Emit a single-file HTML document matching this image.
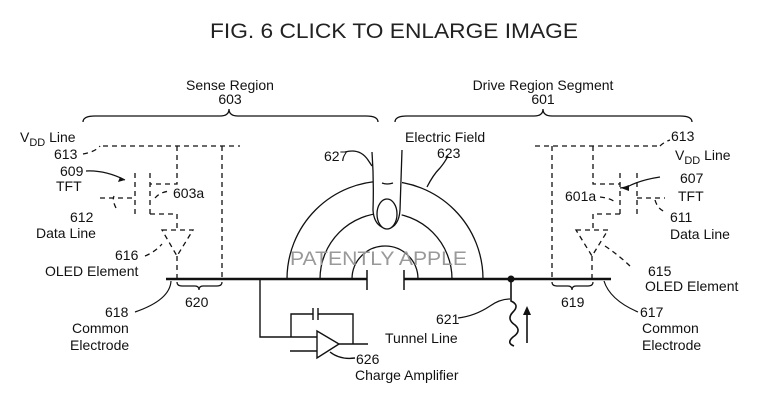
<!DOCTYPE html>
<html><head><meta charset="utf-8"><style>
html,body{margin:0;padding:0;background:#fff;}
svg{display:block;}
text{font-family:"Liberation Sans",Arial,sans-serif;fill:#111;}
</style></head><body>
<svg width="764" height="400" viewBox="0 0 764 400" xmlns="http://www.w3.org/2000/svg">
<text x="210" y="38" font-size="21" textLength="368" lengthAdjust="spacingAndGlyphs" style="fill:#222">FIG. 6 CLICK TO ENLARGE IMAGE</text>

<g font-size="14">
<text x="230" y="90" text-anchor="middle">Sense Region</text>
<text x="230" y="104" text-anchor="middle">603</text>
<text x="543" y="90" text-anchor="middle">Drive Region Segment</text>
<text x="543" y="104" text-anchor="middle">601</text>
</g>
<g fill="none" stroke="#111" stroke-width="1.3">
<path d="M83,122 Q83,116 95,116 L220,116 Q229,116 229,109 Q229,116 238,116 L366,116 Q378,116 378,122"/>
<path d="M395,122 Q395,116 407,116 L534,116 Q543,116 543,109 Q543,116 552,116 L680,116 Q692,116 692,122"/>
</g>

<!-- left pixel -->
<g fill="none" stroke="#111" stroke-width="1.3" stroke-dasharray="5,4">
<path d="M103,146 L240,146"/>
<path d="M177,146 L177,184 L150,184"/>
<path d="M222,146 L222,280"/>
<path d="M135,173 L135,218"/>
<path d="M150,173 L150,218"/>
<path d="M100,198 L135,198"/>
<path d="M150,214 L177,214 L177,230"/>
<path d="M162,230 L193,230 L177,256 Z"/>
<path d="M177,256 L177,280"/>
<path d="M83,154 Q95,152 100,146"/>
<path d="M116,208 Q112,200 114,196"/>
<path d="M145,256 Q155,252 162,244"/>
<path d="M155,198 Q160,192 170,191"/>
</g>
<!-- right pixel -->
<g fill="none" stroke="#111" stroke-width="1.3" stroke-dasharray="5,4">
<path d="M535,146 L660,146"/>
<path d="M552,146 L552,280"/>
<path d="M593,146 L593,184 L620,184"/>
<path d="M620,173 L620,218"/>
<path d="M637,173 L637,218"/>
<path d="M637,198 L665,198"/>
<path d="M620,214 L593,214 L593,230"/>
<path d="M576,230 L608,230 L592,256 Z"/>
<path d="M592,256 L592,280"/>
<path d="M660,146 Q664,142 670,140"/>
<path d="M655,200 Q658,210 666,212"/>
<path d="M605,246 Q620,256 632,268"/>
<path d="M600,197 Q610,198 615,202"/>
</g>
<g font-size="14">
<text x="20" y="142">V<tspan font-size="11" dy="4">DD</tspan><tspan dy="-4"> Line</tspan></text>
<text x="54" y="159">613</text>
<text x="60" y="176">609</text>
<text x="56" y="191">TFT</text>
<text x="70" y="222">612</text>
<text x="36" y="238">Data Line</text>
<text x="115" y="260">616</text>
<text x="45" y="276">OLED Element</text>
<text x="173" y="198">603a</text>
<text x="671" y="141">613</text>
<text x="675" y="160">V<tspan font-size="11" dy="4">DD</tspan><tspan dy="-4"> Line</tspan></text>
<text x="680" y="183">607</text>
<text x="678" y="201">TFT</text>
<text x="670" y="222">611</text>
<text x="670" y="239">Data Line</text>
<text x="648" y="276">615</text>
<text x="645" y="291">OLED Element</text>
<text x="565" y="201">601a</text>
</g>
<g fill="none" stroke="#111" stroke-width="1.2">
<path d="M86,171 Q105,170 125,180"/>
<path d="M620,188 L627,187 Q640,180 660,177"/>
</g>
<path d="M125,180 L118,182 L120,177 Z" fill="#111"/>
<path d="M621,188 L629,185 L629,191 Z" fill="#111"/>

<!-- electrodes -->
<g stroke="#111" fill="none">
<path d="M166,279 L367,279" stroke-width="2.5"/>
<path d="M367,270 L367,290" stroke-width="1.5"/>
<path d="M404,279 L611,279" stroke-width="2.5"/>
<path d="M404,270 L404,290" stroke-width="1.5"/>
</g>
<circle cx="511" cy="279" r="3.5" fill="#111"/>

<!-- arcs -->
<g fill="none" stroke="#111" stroke-width="1.3">
<path d="M287,279 A98,98 0 0 1 483,279"/>
<path d="M320,279 A66,66 0 0 1 452,279"/>
<path d="M352,279 A33,33 0 0 1 418,279"/>
</g>
<!-- finger -->
<path d="M372,140 Q374,180 373,210 Q373,228 388,229 Q402,228 402,210 L402,140 Z" fill="#fff" stroke="none"/>
<g fill="none" stroke="#111" stroke-width="1.3">
<path d="M372,152 Q374,180 373,210 Q374,227 388,229"/>
<path d="M402,150 Q401,180 400,210 Q399,226 388,229"/>
<ellipse cx="387" cy="214" rx="10" ry="15" fill="#fff"/>
<path d="M382,183 Q387,185 393,183"/>
<path d="M345,152 Q360,148 368,160 L372,166"/>
<path d="M427,187 Q433,175 440,168 Q445,162 448,156"/>
</g>
<text x="290" y="265" font-size="19" style="fill:#999" textLength="177" lengthAdjust="spacingAndGlyphs">PATENTLY APPLE</text>
<g font-size="14">
<text x="324" y="161">627</text>
<text x="405" y="142">Electric Field</text>
<text x="437" y="158">623</text>
</g>

<!-- braces under -->
<g fill="none" stroke="#111" stroke-width="1.2">
<path d="M177,282 Q177,286 182,286 L195,286 Q199,286 199,290 Q199,286 203,286 L217,286 Q222,286 222,282"/>
<path d="M552,282 Q552,286 557,286 L568,286 Q572,286 572,290 Q572,286 576,286 L588,286 Q593,286 593,282"/>
<path d="M171,281 Q170,300 135,312"/>
<path d="M604,281 Q610,300 638,312"/>
</g>
<g font-size="14">
<text x="185" y="307">620</text>
<text x="561" y="307">619</text>
<text x="105" y="317">618</text>
<text x="72" y="333">Common</text>
<text x="70" y="350">Electrode</text>
<text x="640" y="317">617</text>
<text x="642" y="333">Common</text>
<text x="642" y="350">Electrode</text>
</g>

<!-- charge amp -->
<g fill="none" stroke="#111" stroke-width="1.4">
<path d="M260,279 L260,337 L317,337"/>
<path d="M291,337 L291,314 L313,314 M318,314 L353,314 L353,344"/>
<path d="M313,308 L313,320 M318,308 L318,320"/>
<path d="M317,331 L317,358 L339,344 Z"/>
<path d="M339,344 L368,344"/>
<path d="M290,351 L317,351"/>
<path d="M330,352 Q340,360 355,358"/>
</g>
<g font-size="14">
<text x="356" y="364">626</text>
<text x="355" y="380">Charge Amplifier</text>
<text x="436" y="324">621</text>
<text x="385" y="343">Tunnel Line</text>
</g>
<!-- tunnel -->
<g fill="none" stroke="#111" stroke-width="1.6">
<path d="M511,279 L511,301 Q520,305 513,312 Q506,319 515,325 Q522,331 513,337 Q506,343 514,346"/>
<path d="M527,343 L527,312"/>
<path d="M458,318 Q475,316 490,306 Q500,299 510,299" stroke-width="1.2"/>
</g>
<path d="M527,306 L523,315 L531,315 Z" fill="#111"/>
</svg>
</body></html>
